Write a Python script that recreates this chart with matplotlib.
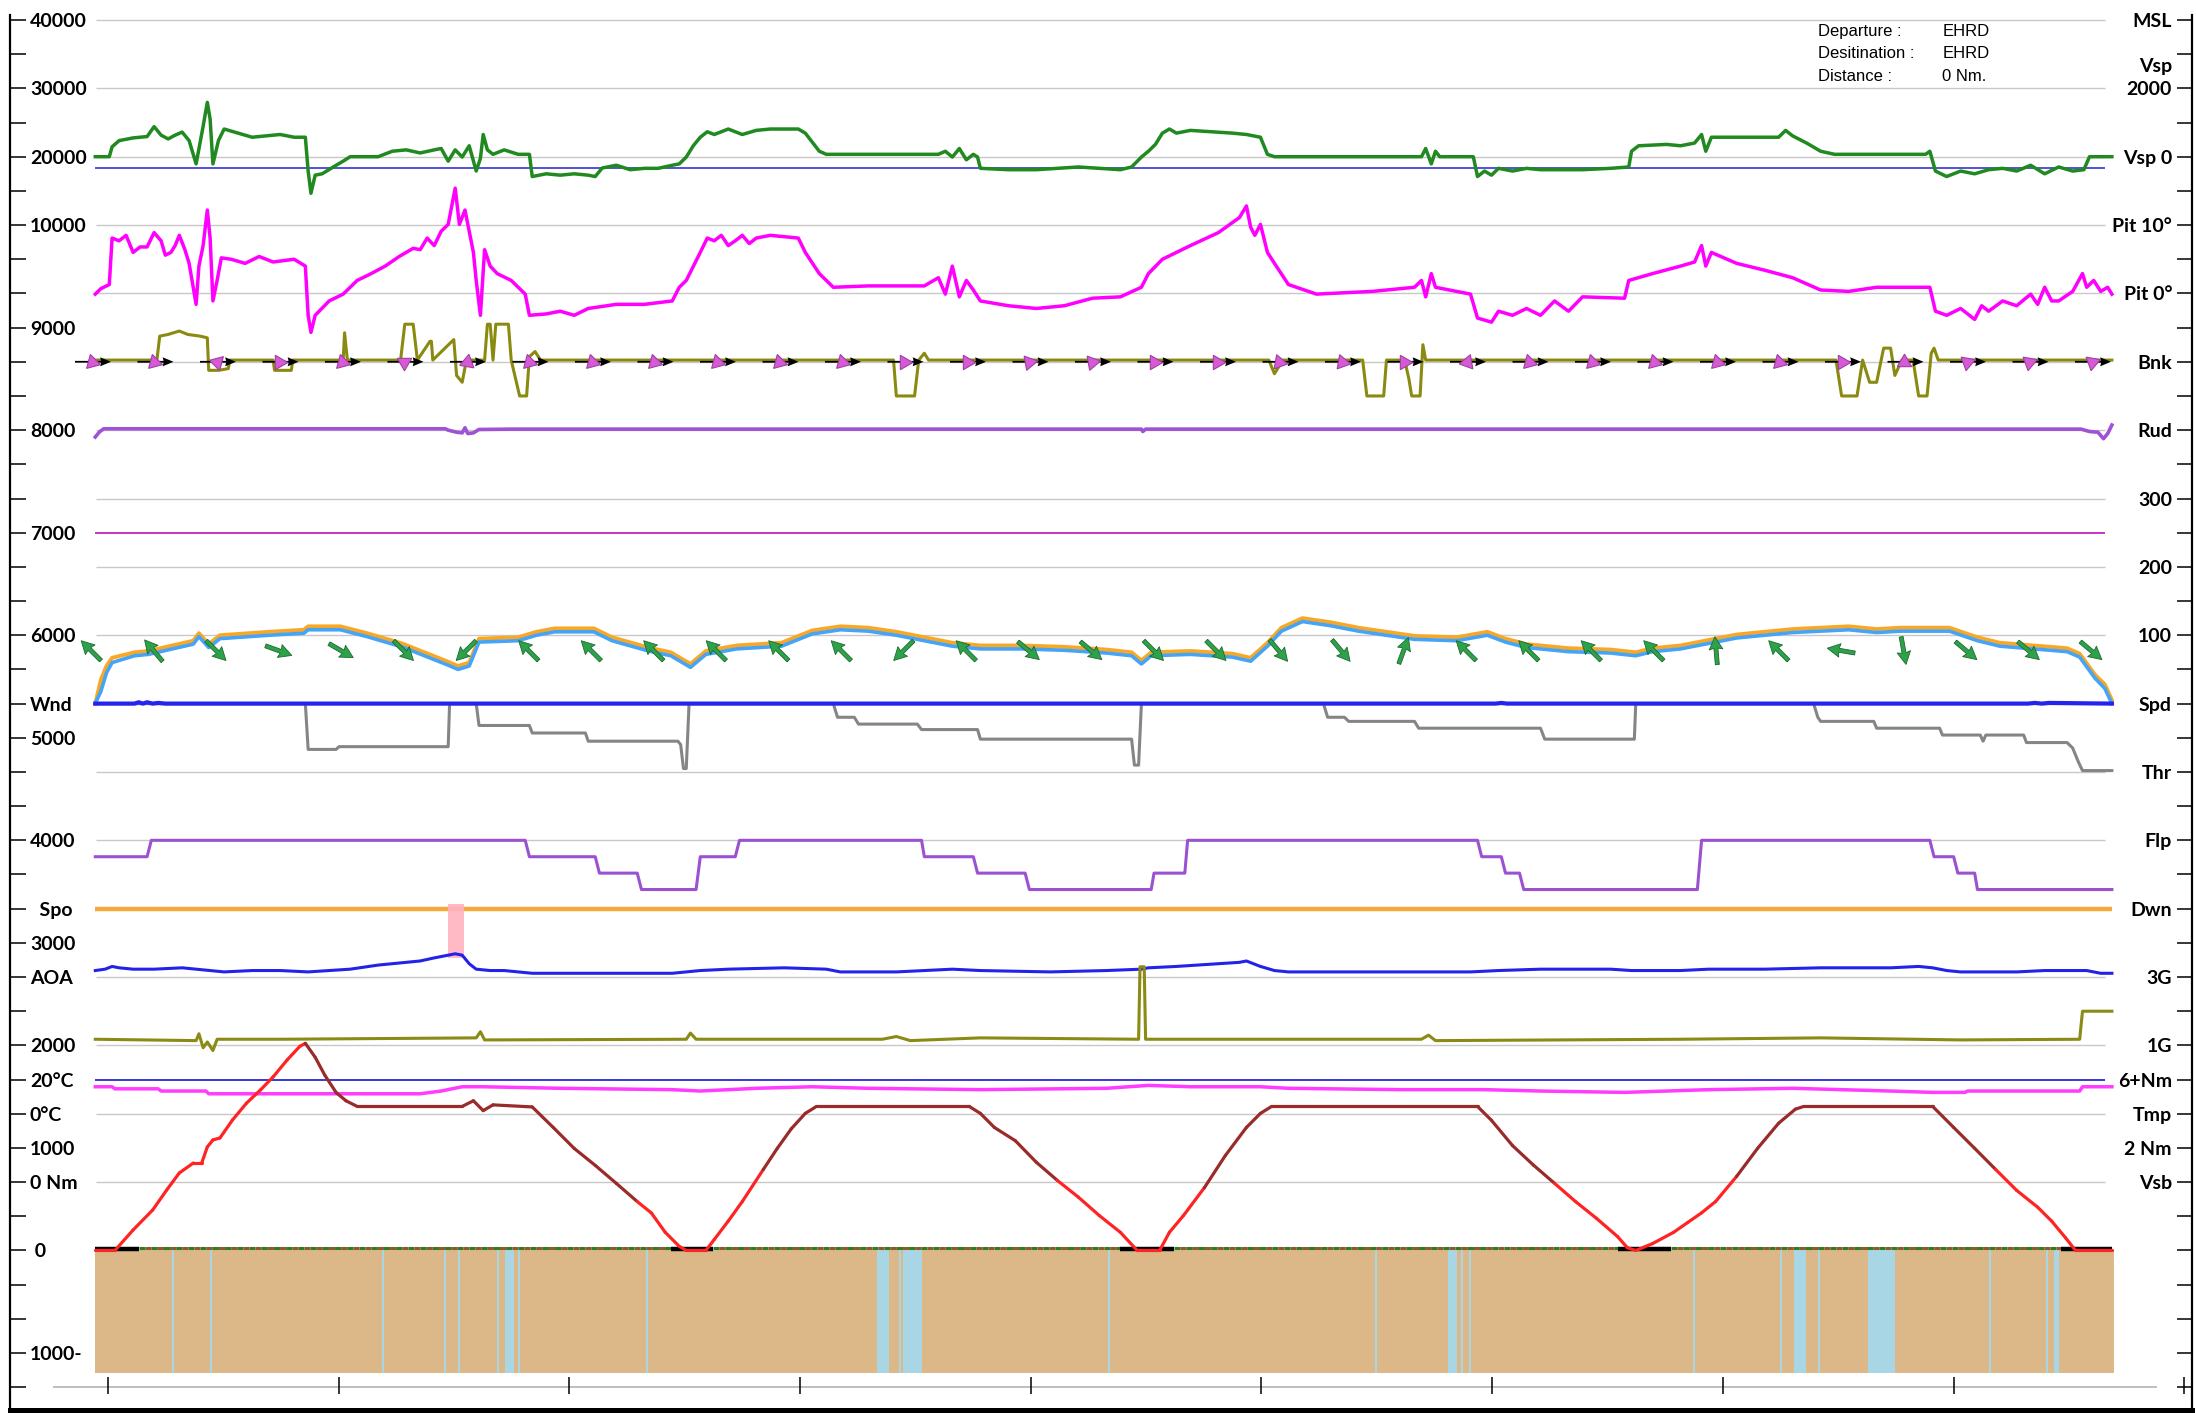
import matplotlib
matplotlib.use("Agg")
import matplotlib.pyplot as plt
import numpy as np
from matplotlib.collections import LineCollection

plt.rcParams["font.family"] = ["Lato", "DejaVu Sans"]

# x = record number (about 1.8 s per record, a tick every 5 minutes)
# every trace sits on its own band; one row = one tick on the side axes

ALT_X = [0, 14, 27, 41, 51, 60, 70, 76, 80, 84,
         89, 98, 108, 118, 127, 137, 146, 150, 157, 164,
         172, 179, 187, 262, 270, 277, 284, 312, 327, 342,
         357, 372, 387, 397, 407, 417, 422, 436, 442, 452,
         462, 477, 487, 497, 507, 515, 624, 632, 642, 657,
         672, 687, 702, 717, 732, 744, 760, 767, 777, 792,
         807, 822, 832, 840, 987, 997, 1012, 1027, 1042, 1057,
         1072, 1087, 1094, 1100, 1112, 1127, 1137, 1147, 1157, 1172,
         1187, 1202, 1214, 1220, 1312, 1327, 1342, 1357, 1372, 1387,
         1397, 1407, 1414, 1440]
ALT_FT = [0, 0, 200, 395, 590, 756, 853, 853, 1010, 1078,
          1097, 1273, 1437, 1566, 1693, 1858, 1990, 2020, 1885, 1707,
          1540, 1460, 1405, 1405, 1460, 1364, 1420, 1400, 1200, 995,
          830, 655, 477, 367, 177, 40, 0, 0, 107, 287,
          477, 790, 996, 1187, 1337, 1405, 1405, 1337, 1200, 1070,
          860, 683, 520, 340, 177, 0, 0, 177, 340, 613,
          927, 1200, 1337, 1405, 1405, 1269, 1023, 832, 655, 477,
          313, 136, 27, 0, 67, 177, 272, 367, 477, 722,
          996, 1241, 1378, 1405, 1405, 1200, 996, 790, 586, 422,
          286, 122, 0, 0]
ALT_RED_SPANS = [(0, 150), (392, 470), (687, 790), (1042, 1165), (1352, 1440)]
ALT_SEL_FT = 7000
GROUND_FLOOR_FT = -1190

VSP_X = [0, 10, 12, 17, 27, 37, 42, 47, 52, 57,
         62, 67, 72, 77, 80, 82, 84, 88, 92, 102,
         112, 122, 132, 142, 150, 152, 154, 157, 162, 172,
         177, 182, 202, 212, 222, 232, 242, 247, 252, 257,
         262, 267, 272, 275, 277, 280, 284, 292, 302, 310,
         312, 322, 332, 342, 352, 357, 362, 372, 382, 392,
         402, 412, 417, 422, 427, 432, 437, 442, 452, 462,
         472, 482, 502, 507, 517, 522, 602, 607, 612, 617,
         622, 627, 630, 632, 652, 672, 702, 732, 740, 747,
         752, 757, 762, 767, 772, 782, 812, 822, 832, 837,
         842, 947, 950, 954, 957, 960, 984, 987, 992, 997,
         1002, 1012, 1022, 1032, 1062, 1082, 1095, 1097, 1102, 1122,
         1132, 1142, 1147, 1150, 1154, 1162, 1202, 1207, 1212, 1222,
         1232, 1242, 1307, 1310, 1314, 1322, 1332, 1342, 1352, 1362,
         1372, 1382, 1392, 1402, 1412, 1420, 1424, 1440]
VSP_FPM = [0, 0, 290, 470, 550, 590, 880, 630, 520, 630,
           720, 470, -210, 890, 1590, 1100, -210, 480, 810, 690,
           570, 610, 650, 570, 570, -420, -1070, -540, -500, -250,
           -130, 0, 0, 160, 200, 110, 200, 240, -130, 200,
           -10, 320, -420, -50, 650, 200, 70, 200, 70, 70,
           -580, -500, -540, -500, -540, -580, -330, -250, -380, -340,
           -340, -250, -210, -10, 320, 570, 730, 650, 810, 650,
           770, 810, 810, 690, 160, 70, 70, 160, -10, 240,
           -90, 70, -10, -340, -380, -380, -300, -380, -300, -10,
           160, 360, 690, 810, 690, 770, 690, 650, 570, 70,
           0, 0, 240, -210, 160, 0, 0, -580, -420, -540,
           -340, -420, -340, -380, -380, -340, -300, 160, 320, 360,
           320, 400, 650, 160, 570, 570, 570, 770, 610, 400,
           160, 70, 70, 160, -420, -580, -420, -500, -380, -340,
           -420, -250, -500, -300, -420, -380, 0, 0]
VSP_REF_FPM = -330

PIT_X = [0, 4, 10, 12, 17, 22, 27, 32, 37, 42,
         47, 50, 54, 57, 60, 64, 67, 72, 74, 77,
         80, 82, 84, 87, 90, 97, 107, 117, 127, 142,
         150, 152, 154, 157, 167, 177, 187, 197, 207, 217,
         227, 232, 237, 242, 247, 252, 254, 257, 260, 264,
         267, 270, 272, 275, 278, 282, 287, 297, 307, 310,
         322, 332, 342, 352, 372, 392, 412, 417, 422, 432,
         437, 442, 447, 452, 457, 462, 467, 472, 482, 502,
         507, 517, 527, 552, 592, 602, 607, 612, 617, 622,
         627, 632, 652, 672, 692, 712, 732, 747, 752, 762,
         782, 802, 817, 822, 825, 828, 832, 837, 842, 852,
         872, 912, 942, 947, 950, 954, 957, 982, 987, 997,
         1002, 1012, 1022, 1032, 1042, 1052, 1062, 1092, 1095, 1112,
         1132, 1142, 1147, 1150, 1154, 1172, 1192, 1212, 1232, 1252,
         1272, 1310, 1314, 1322, 1332, 1342, 1347, 1352, 1362, 1372,
         1382, 1387, 1392, 1397, 1402, 1412, 1419, 1422, 1427, 1432,
         1437, 1440]
PIT_DEG = [-0.1, 0.7, 1.3, 8.1, 7.7, 8.5, 6.0, 6.8, 6.8, 8.9,
           7.7, 5.6, 6.0, 7.0, 8.5, 6.4, 4.4, -1.6, 4.0, 7.0,
           12.2, 8.1, -1.1, 1.9, 5.2, 5.0, 4.4, 5.4, 4.6, 5.0,
           4.0, -3.2, -5.7, -3.2, -1.1, -0.1, 1.9, 2.9, 4.0, 5.4,
           6.6, 6.4, 8.1, 7.0, 9.1, 10.1, 12.2, 15.4, 10.1, 12.2,
           9.1, 6.0, 1.9, -3.2, 6.4, 4.0, 2.9, 1.9, -0.1, -3.2,
           -3.0, -2.6, -3.2, -2.2, -1.6, -1.6, -1.1, 0.9, 1.9, 6.0,
           8.1, 7.7, 8.5, 7.0, 7.7, 8.5, 7.3, 8.1, 8.5, 8.1,
           6.0, 2.9, 0.9, 1.1, 1.1, 2.3, -0.1, 4.0, -0.5, 1.9,
           0.5, -1.1, -1.8, -2.2, -1.8, -0.7, -0.5, 0.9, 2.9, 5.0,
           7.0, 8.9, 11.1, 12.8, 9.7, 8.5, 10.1, 6.0, 4.4, 1.3,
           -0.1, 0.3, 0.9, 1.9, -0.5, 2.9, 0.9, -0.1, -3.6, -4.2,
           -2.6, -3.2, -2.2, -3.2, -1.1, -2.6, -0.5, -0.7, 1.9, 2.9,
           4.0, 4.6, 7.0, 4.0, 6.0, 4.4, 3.4, 2.3, 0.5, 0.3,
           0.9, 0.9, -2.6, -3.2, -2.2, -3.8, -1.8, -2.6, -1.1, -1.8,
           -0.1, -1.6, 0.9, -1.1, -1.1, 0.3, 2.9, 0.9, 1.9, 0.3,
           0.9, -0.1]

BNK_X = [0, 44, 46, 52, 60, 66, 75, 80, 81, 88,
         95, 96, 127, 128, 140, 141, 177, 178, 180, 218,
         221, 227, 230, 239, 240, 241, 256, 258, 262, 265,
         278, 280, 282, 284, 286, 295, 297, 303, 308, 310,
         314, 318, 570, 572, 585, 588, 592, 595, 838, 842,
         848, 905, 908, 920, 922, 935, 938, 940, 946, 948,
         950, 1243, 1247, 1258, 1262, 1267, 1272, 1277, 1282, 1285,
         1290, 1298, 1302, 1308, 1311, 1313, 1316, 1440]
BNK_DEG = [1, 1, 15, 16, 18, 16, 15, 14, -5, -5,
           -4, 1, 1, -5, -5, 1, 1, 17, 1, 1,
           22, 22, 1, 12, 12, 1, 13, -8, -12, 1,
           1, 22, 22, 1, 22, 22, 1, -20, -20, 3,
           6, 1, 1, -20, -20, 1, 5, 1, 1, -7,
           1, 1, -20, -20, 1, 1, -10, -20, -20, 10,
           1, 1, -20, -20, 1, -12, -12, 8, 8, -8,
           1, 1, -20, -20, 5, 8, 1, 1]
# bank markers: one every 44.6 records, triangle pointing direction in degrees
MARK_START = -14.5
MARK_STEP = 44.63
BANK_TRI_DIR = [225, 225, 45, 0, 345, 30, 200, 225, 225, 225, 225, 225, 225,
                0, 0, 10, 10, 0, 0, 350, 350, 0, 190, 225, 225, 225, 225, 225,
                0, 90, 20, 20, 20]
WIND_DIR = [135, 130, -45, -20, -30, -45, 225, 135, 135, 135, 135, 135, 135,
            225, 135, -40, -40, -45, -45, -50, -50, 70, 135, 135, 135, 135,
            95, 135, 170, -80, -40, -40, -40]

RUD_X = [0, 3, 6, 250, 252, 258, 262, 264, 266, 270,
         274, 297, 747, 748, 750, 1418, 1424, 1430, 1434, 1437, 1440]
RUD_DEG = [-2.0, -0.5, 0.4, 0.4, 0.0, -0.6, -0.8, 0.7, -1.0, -0.8,
           0.2, 0.3, 0.3, -0.4, 0.3, 0.3, -0.4, -0.6, -2.5, -1.0, 1.5]

SPD_X = [0, 4, 8, 12, 28, 38, 55, 70, 74, 81,
         89, 124, 149, 152, 175, 194, 219, 251, 259, 267,
         274, 302, 315, 328, 356, 369, 395, 411, 425, 436,
         458, 490, 512, 532, 552, 572, 592, 612, 632, 662,
         692, 722, 740, 747, 754, 782, 812, 825, 837, 847,
         862, 882, 902, 922, 942, 972, 994, 1007, 1022, 1052,
         1082, 1100, 1112, 1132, 1152, 1172, 1192, 1212, 1232, 1252,
         1272, 1289, 1324, 1344, 1360, 1408, 1417, 1428, 1435, 1440]
TAS_KT = [0, 35, 55, 67, 75, 77, 85, 92, 103, 87,
          100, 105, 108, 113, 113, 103, 88, 62, 55, 60,
          95, 97, 105, 110, 110, 97, 82, 75, 58, 77,
          85, 89, 107, 113, 111, 105, 97, 89, 85, 85,
          83, 79, 75, 63, 75, 77, 73, 67, 89, 111,
          125, 119, 111, 105, 99, 97, 105, 95, 87, 81,
          79, 75, 81, 85, 93, 101, 105, 109, 111, 113,
          109, 111, 111, 97, 89, 81, 73, 42, 28, 5]
IAS_KT = [0, 18, 45, 60, 70, 72, 80, 87, 98, 82,
          95, 100, 103, 108, 108, 98, 83, 57, 50, 55,
          90, 92, 100, 105, 105, 92, 77, 70, 53, 72,
          80, 84, 102, 108, 106, 100, 92, 84, 80, 80,
          78, 74, 70, 58, 70, 72, 68, 62, 84, 106,
          120, 114, 106, 100, 94, 92, 100, 90, 82, 76,
          74, 70, 76, 80, 88, 96, 100, 104, 106, 108,
          104, 106, 106, 92, 84, 76, 68, 37, 22, 0]
WND_X = [0, 28, 31, 34, 37, 41, 45, 50, 1000, 1004, 1008, 1380, 1385, 1390, 1395, 1440]
WND_KT = [0, 0, 2, 0, 2, 0, 1, 0, 0, 1, 0, 0, 1, 0, 1, 0]

THR_X = [0, 150, 152, 172, 174, 252, 253, 272, 274, 310,
         312, 350, 352, 416, 418, 420, 422, 424, 527, 530,
         542, 545, 587, 590, 630, 632, 740, 742, 745, 747,
         877, 880, 892, 895, 942, 945, 1032, 1035, 1099, 1100,
         1227, 1230, 1232, 1270, 1272, 1317, 1319, 1346, 1348, 1350,
         1377, 1379, 1408, 1412, 1416, 1419, 1440]
THR_PCT = [100, 100, 33, 33, 37, 37, 100, 100, 68, 68,
           57, 57, 45, 45, 40, 5, 5, 100, 100, 80,
           80, 70, 70, 62, 62, 48, 48, 10, 10, 100,
           100, 80, 80, 74, 74, 64, 64, 48, 48, 100,
           100, 80, 74, 74, 64, 64, 54, 54, 45, 54,
           54, 43, 43, 35, 15, 2, 2]

FLP_X = [0, 37, 40, 307, 310, 357, 360, 387, 390, 429,
         432, 457, 460, 590, 592, 627, 630, 664, 667, 754,
         756, 778, 780, 987, 990, 1004, 1007, 1017, 1020, 1144,
         1147, 1310, 1313, 1327, 1330, 1342, 1344, 1440]
FLP_NOTCH = [1, 1, 0, 0, 1, 1, 2, 2, 3, 3,
             1, 1, 0, 0, 1, 1, 2, 2, 3, 3,
             2, 2, 0, 0, 1, 1, 2, 2, 3, 3,
             0, 0, 1, 1, 2, 2, 3, 3]

STALL_SPAN = (252, 263)

AOA_X = [0, 7, 12, 17, 27, 42, 62, 82, 92, 112,
         132, 152, 167, 182, 202, 222, 232, 242, 252, 257,
         262, 267, 272, 282, 292, 302, 312, 392, 412, 422,
         432, 452, 492, 522, 532, 572, 612, 632, 682, 722,
         747, 752, 772, 802, 817, 822, 832, 842, 852, 892,
         982, 1002, 1032, 1082, 1097, 1132, 1152, 1192, 1232, 1282,
         1302, 1312, 1322, 1332, 1372, 1392, 1422, 1432, 1440]
AOA_DEG = [1.9, 2.3, 3.1, 2.7, 2.3, 2.3, 2.7, 1.9, 1.5, 1.9,
           1.9, 1.5, 1.9, 2.3, 3.5, 4.3, 4.7, 5.6, 6.4, 6.8,
           6.4, 3.9, 2.3, 1.9, 1.9, 1.5, 1.1, 1.1, 1.1, 1.5,
           1.9, 2.3, 2.7, 2.3, 1.5, 1.5, 2.3, 1.9, 1.5, 1.9,
           2.3, 2.7, 3.1, 3.9, 4.3, 4.7, 3.1, 1.9, 1.5, 1.5,
           1.5, 1.9, 2.3, 2.3, 1.9, 1.9, 2.3, 2.3, 2.7, 2.7,
           3.1, 2.7, 1.9, 1.5, 1.5, 1.9, 1.9, 1.1, 1.1]

G_X = [0, 72, 74, 77, 80, 84, 87, 132, 272, 275,
       278, 422, 425, 429, 562, 572, 582, 632, 745, 746,
       749, 750, 947, 952, 957, 1132, 1232, 1332, 1417, 1419, 1440]
G_VAL = [1.18, 1.14, 1.34, 0.93, 1.10, 0.85, 1.18, 1.18, 1.22, 1.40,
         1.16, 1.18, 1.36, 1.18, 1.18, 1.26, 1.14, 1.22, 1.18, 3.3,
         3.3, 1.18, 1.18, 1.30, 1.14, 1.18, 1.22, 1.16, 1.18, 2.0, 2.0]

DIST_NM = 6  # capped at 6+ Nm

TMP_X = [0, 12, 14, 45, 47, 79, 81, 232, 247, 262,
         277, 332, 412, 432, 472, 512, 552, 632, 722, 752,
         782, 832, 852, 932, 992, 1032, 1092, 1152, 1212, 1282,
         1312, 1335, 1337, 1417, 1419, 1440]
TMP_C = [15.8, 15.8, 14.6, 14.6, 13.3, 13.3, 11.7, 11.7, 13.3, 15.8,
         15.8, 14.9, 14.1, 13.3, 14.9, 15.8, 14.9, 14.1, 14.9, 16.6,
         15.8, 15.8, 14.9, 14.1, 14.1, 13.3, 12.5, 14.1, 14.9, 13.3,
         12.5, 12.5, 13.3, 13.3, 15.8, 15.8]

RUNWAY_SPANS = [(0, 31), (411, 441), (732, 770), (1087, 1125), (1404, 1440)]
WATER_SPANS = [(55, 56.5), (82, 83.5), (205, 206.5), (249, 250.5), (259, 260.5),
               (287, 288.5), (292.6, 299), (302, 303.5), (393, 394.5), (558, 567),
               (574, 575.5), (577, 590), (723, 724.5), (914, 915.5), (966, 972.3),
               (975.5, 977), (981, 982.5), (1141, 1142.5), (1203, 1204.5),
               (1213, 1221.5), (1230, 1231.5), (1266, 1285), (1352.5, 1354),
               (1393, 1394.5), (1399, 1402)]

LEFT_ROWS = [36, 34, 32, 30, 27, 24, 21, 18, 16, 15, 12, 10, 9, 8, 6, 5, 4, 3, 2, 0, -3]
LEFT_TEXT = ["40000", "30000", "20000", "10000", "9000", "8000", "7000", "6000",
             "Wnd", "5000", "4000", "  Spo", "3000", "AOA", "2000", "20°C", "0°C",
             "1000", "0 Nm", " 0", "1000-"]
RIGHT_ROWS = [36, 34, 32, 30, 28, 26, 24, 22, 20, 18, 16, 14, 12, 10, 8, 6, 5, 4, 3, 2]
RIGHT_TEXT = ["MSL", "2000", "Vsp 0", "Pit 10°", "Pit 0°", "Bnk", "Rud", "300", "200",
              "100", "Spd", "Thr", "Flp", "Dwn", "3G", "1G", "6+Nm", "Tmp", "2 Nm", "Vsb"]

INFO_KEYS = ["Departure :", "Desitination :", "Distance :"]
INFO_VALS = ["EHRD", "EHRD", "0 Nm."]


def band(values, base, per_row):
    return base + np.asarray(values, dtype=float) / per_row


fig = plt.figure(figsize=(21.96, 14.13), dpi=100)
ax = fig.add_axes([10 / 2196, 3 / 1413, 2182 / 2196, 1395 / 1413])
ax.set_xlim(-60.9, 1497.2)
ax.set_ylim(-4.667, 36.146)
END = ALT_X[-1]

# grid
ax.hlines(np.arange(0, 37, 2), 0.5, END - 5, colors="#c8c8c8", lw=1.0, zorder=1)

# terrain + water
floor = band(GROUND_FLOOR_FT, 0, 1000 / 3)
ax.fill_between([0, END + 1.5], floor, 0, color="#dcb788", lw=0, zorder=2)
for a, b in WATER_SPANS:
    ax.fill_between([a, b], floor, 0, color="#a9d6e5", lw=0, zorder=2.5)
rw_a = [a for a, b in RUNWAY_SPANS]
rw_b = [b for a, b in RUNWAY_SPANS]
gnd_y = np.full(len(rw_a) - 1, 0.08)
ax.hlines(gnd_y, rw_b[:-1], rw_a[1:], colors="#2f7d1f", lw=2.2, linestyles=(0, (2, 2)), zorder=3)
ax.hlines(gnd_y, rw_b[:-1], rw_a[1:], colors="#8c5a2e", lw=2.2, linestyles=(2, (2, 2)), zorder=3)
ax.hlines(np.full(len(rw_a), 0.04), rw_a, rw_b, colors="black", lw=3.2, zorder=4)

# reference lines
ax.hlines(band(VSP_REF_FPM, 32, 1000), 0, END - 5, colors="#3434d4", lw=1.2, zorder=3)
ax.hlines(band(ALT_SEL_FT, 0, 1000 / 3), 0, END - 5, colors="#b400b4", lw=1.1, zorder=3)
ax.hlines(band(DIST_NM, 2, 2), 0, END - 5, colors="#1616d0", lw=1.2, zorder=3)
ax.hlines(10, 0, END, colors="#f7a83a", lw=3.2, zorder=3)

# stall warning
ax.fill_between(STALL_SPAN, 8.55, 10.15, color="#ffb3c0", alpha=0.9, lw=0, zorder=3.5)

# traces
ax.plot(VSP_X, band(VSP_FPM, 32, 1000), color="#208a20", lw=2.5, zorder=5)
ax.plot(PIT_X, band(PIT_DEG, 28, 5), color="#ff00ff", lw=2.5, zorder=5)
ax.plot(BNK_X, band(BNK_DEG, 26, 20), color="#8a8a10", lw=2.2, zorder=5)
ax.plot(RUD_X, band(RUD_DEG, 24, 10), color="#a052d4", lw=2.6, zorder=5)
ax.plot(THR_X, band(THR_PCT, 14, 50), color="#858585", lw=2.2, zorder=4)
ax.plot(SPD_X, band(TAS_KT, 16, 50), color="#f9a825", lw=2.8, zorder=5)
ax.plot(SPD_X, band(IAS_KT, 16, 50), color="#45a4f5", lw=2.6, zorder=5)
ax.plot(WND_X, band(WND_KT, 16, 50), color="#2424ee", lw=3.0, zorder=5)
ax.plot(FLP_X, band(FLP_NOTCH, 12, -1 / 0.48), color="#9b51d1", lw=2.2, zorder=5)
ax.plot(AOA_X, band(AOA_DEG, 8, 10), color="#2222ea", lw=2.2, zorder=5)
ax.plot(G_X, band(G_VAL, 5, 1), color="#8a8a14", lw=2.2, zorder=5)
ax.plot(TMP_X, band(TMP_C, 4, 20), color="#ff3cff", lw=2.5, zorder=5)

# altitude, red on climbs/low descents, brown elsewhere
px = np.asarray(ALT_X, dtype=float)
pts = np.column_stack([px, band(ALT_FT, 0, 1000 / 3)])
segs = np.stack([pts[:-1], pts[1:]], axis=1)
mid = (px[:-1] + px[1:]) / 2
red = np.zeros(len(mid), dtype=bool)
for a, b in ALT_RED_SPANS:
    red |= (mid >= a) & (mid <= b)
ax.add_collection(LineCollection(segs, colors=np.where(red, "#ff2424", "#9a2b2b"),
                                 linewidths=2.3, capstyle="round", joinstyle="round", zorder=6))

# bank arrows and wind arrows
n = len(BANK_TRI_DIR)
mx = MARK_START + MARK_STEP * np.arange(n)
ax.quiver(mx, np.full(n, 26.0), np.ones(n), np.zeros(n), angles="uv", scale_units="dots",
          scale=1 / 36, units="dots", width=1.8, headwidth=5, headlength=6,
          headaxislength=5.5, pivot="tail", color="black", zorder=7)
for x, d in zip(mx + 12, BANK_TRI_DIR):
    ax.plot(x, 26, marker=(3, 0, d - 90), ms=12, mfc="#d65ad6", mec="#a23fa2",
            mew=0.8, zorder=8)
wa = np.deg2rad(WIND_DIR)
wx = MARK_START + 11.5 + MARK_STEP * np.arange(len(WIND_DIR))
ax.quiver(wx, np.full(len(wx), 17.55), np.cos(wa), np.sin(wa), angles="uv",
          scale_units="dots", scale=1 / 28, units="dots", width=4.0, headwidth=3.4,
          headlength=3.2, headaxislength=2.9, pivot="middle", color="#2ea24a",
          edgecolor="#1c6a2e", linewidth=0.6, zorder=7)

# x axis (record ticks every 5 min)
xticks = 9 + 164.75 * np.arange(10)
ax.hlines(-4, -30, 1472, colors="#b4b4b4", lw=1.2, zorder=2)
ax.vlines(xticks, -4.2, -3.7, colors="black", lw=1.1, zorder=3)

# info block
for i, (k, v) in enumerate(zip(INFO_KEYS, INFO_VALS)):
    yy = 35.65 - 0.645 * i
    ax.text(1230, yy, k, fontsize=12, family="Liberation Sans", va="center", zorder=9)
    ax.text(1319, yy, v, fontsize=12, family="Liberation Sans", va="center", zorder=9)

# side axes
rows = np.arange(-4, 37)
lt = ["" for _ in rows]
for r, t in zip(LEFT_ROWS, LEFT_TEXT):
    lt[r + 4] = t
ax.set_xticks([])
ax.set_yticks(rows)
ax.set_yticklabels(lt, ha="left", fontweight="bold")
ax.tick_params(axis="y", direction="in", length=11.5, width=1.1, pad=-14.4, labelsize=14)
ax.spines["top"].set_visible(False)
ax.spines["right"].set_visible(False)
ax.spines["left"].set_linewidth(1.6)
ax.spines["bottom"].set_linewidth(3.6)

ax2 = ax.twinx()
ax2.set_ylim(ax.get_ylim())
rt = ["" for _ in rows]
for r, t in zip(RIGHT_ROWS, RIGHT_TEXT):
    rt[r + 4] = t
ax2.set_yticks(rows)
ax2.set_yticklabels(rt, ha="right", fontweight="bold")
ax2.tick_params(axis="y", direction="in", length=10.8, width=1.1, pad=-14.4, labelsize=14)
for s in ("top", "left", "bottom"):
    ax2.spines[s].set_visible(False)
ax2.spines["right"].set_linewidth(1.6)
ax2.annotate("Vsp", xy=(1, 34), xycoords=("axes fraction", "data"), xytext=(-14.4, 16),
             textcoords="offset points", ha="right", va="center", fontsize=14,
             fontweight="bold")

fig.savefig("out.png", dpi=100)
